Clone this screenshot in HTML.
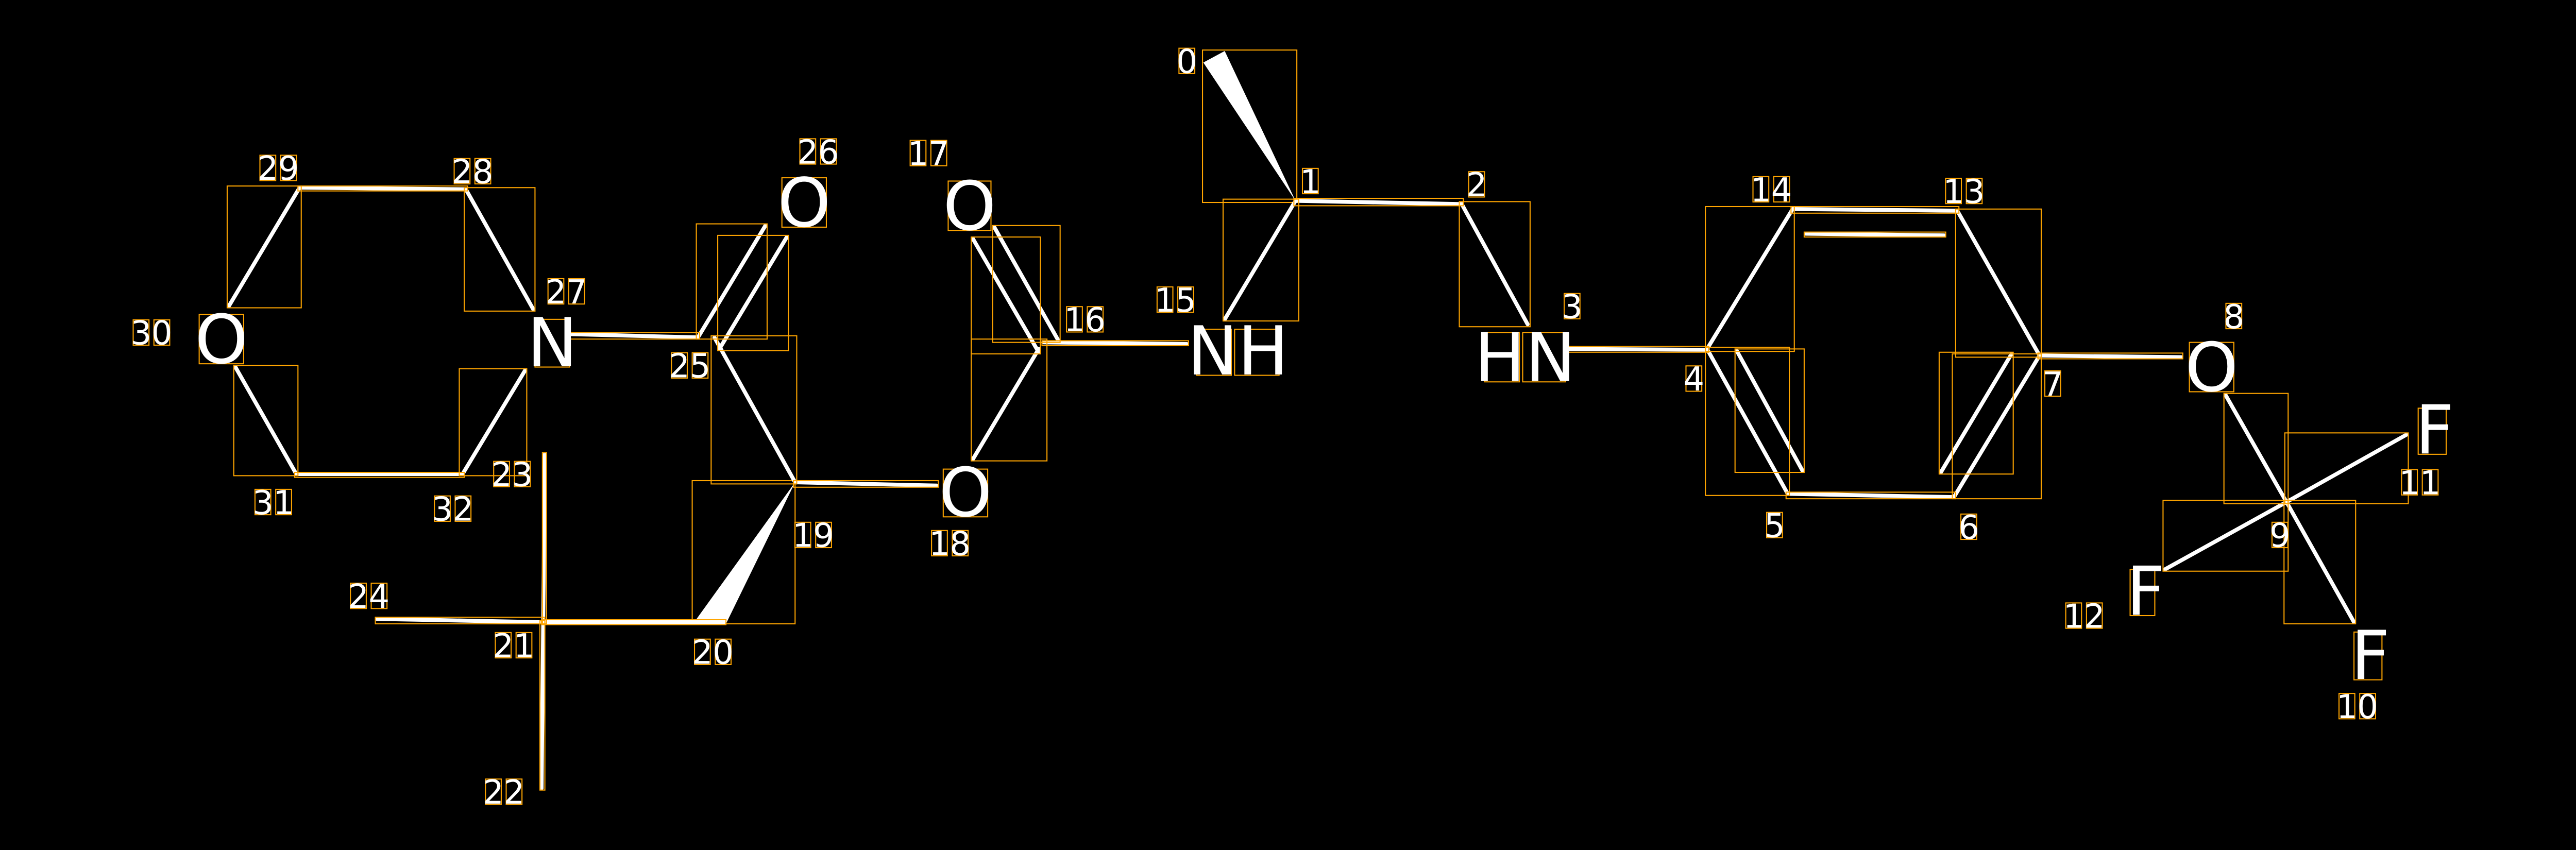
<!DOCTYPE html>
<html><head><meta charset="utf-8"><style>
html,body{margin:0;padding:0;background:#000;width:5010px;height:1650px;overflow:hidden}
svg{display:block}
.b{stroke:#fff;stroke-width:2.4;stroke-linecap:round;fill:none}
.x{stroke:#FFA500;stroke-width:0.65;fill:none}
.d{font-family:"DejaVu Sans","Liberation Sans",sans-serif;font-size:20px;fill:#fff;text-anchor:middle}
.a{font-family:"DejaVu Sans","Liberation Sans",sans-serif;font-size:41px;fill:#fff;text-anchor:middle}
</style></head><body>
<svg width="5010" height="1650" viewBox="0 0 1568 516.4" xmlns="http://www.w3.org/2000/svg">
<rect width="1568" height="516.4" fill="#000"/>
<polygon points="787,122 731,38 744,31" fill="#fff"/>
<rect class="x" x="730.5" y="30.4" width="57.3" height="92.6"/>
<polygon points="483,293 421,379 441,379" fill="#fff"/>
<rect class="x" x="420.5" y="292" width="62.5" height="87"/>
<g class="b">
<line x1="787" y1="122" x2="888" y2="124"/>
<line x1="888" y1="124" x2="928" y2="197"/>
<line x1="951" y1="212" x2="1037" y2="212.5"/>
<line x1="1037" y1="212" x2="1089" y2="127"/>
<line x1="1089" y1="127" x2="1189" y2="128"/>
<line x1="1097" y1="142" x2="1181" y2="143"/>
<line x1="1189" y1="128" x2="1239" y2="216"/>
<line x1="1239" y1="216" x2="1187" y2="302"/>
<line x1="1222" y1="215" x2="1179" y2="287"/>
<line x1="1187" y1="302" x2="1086" y2="300"/>
<line x1="1086" y1="300" x2="1037" y2="212"/>
<line x1="1055" y1="213" x2="1095" y2="286"/>
<line x1="1239" y1="216" x2="1325" y2="217"/>
<line x1="1352" y1="240" x2="1389" y2="305"/>
<line x1="1389" y1="305" x2="1430" y2="378"/>
<line x1="1389" y1="305" x2="1462" y2="264"/>
<line x1="1389" y1="305" x2="1315" y2="346"/>
<line x1="787" y1="122" x2="744" y2="194"/>
<line x1="721" y1="209" x2="634" y2="208"/>
<line x1="631" y1="214" x2="591" y2="145"/>
<line x1="643" y1="207" x2="604" y2="138"/>
<line x1="631" y1="212" x2="591" y2="279"/>
<line x1="569" y1="295" x2="483" y2="293"/>
<line x1="483" y1="293" x2="434" y2="205"/>
<line x1="424" y1="205" x2="465" y2="137"/>
<line x1="437" y1="212" x2="478" y2="144"/>
<line x1="424" y1="205" x2="347" y2="203"/>
<line x1="324" y1="188" x2="283" y2="115"/>
<line x1="283" y1="115" x2="182" y2="114"/>
<line x1="182" y1="114" x2="139" y2="186"/>
<line x1="143" y1="223" x2="180" y2="288"/>
<line x1="180" y1="288" x2="281" y2="288"/>
<line x1="281" y1="288" x2="319" y2="225"/>
<line x1="440" y1="378" x2="330" y2="378"/>
<line x1="330" y1="378" x2="229" y2="376"/>
<line x1="330" y1="378" x2="329" y2="479"/>
<line x1="330" y1="378" x2="331" y2="276"/>
</g>
<g class="x">
<rect x="786" y="120.5" width="103" height="4.5"/>
<rect x="886.5" y="122.5" width="43" height="76"/>
<rect x="950" y="210.5" width="88" height="3.5"/>
<rect x="1036" y="125.5" width="54" height="88"/>
<rect x="1088" y="125.5" width="102" height="4"/>
<rect x="1096" y="141" width="86" height="3"/>
<rect x="1188" y="127" width="52" height="90"/>
<rect x="1186" y="215" width="54" height="88"/>
<rect x="1178" y="214" width="45" height="74"/>
<rect x="1085" y="299" width="103" height="4"/>
<rect x="1036" y="211" width="51" height="90"/>
<rect x="1054" y="212" width="42" height="75"/>
<rect x="1238" y="214.5" width="88" height="3.5"/>
<rect x="1351" y="239" width="39" height="67"/>
<rect x="1387.5" y="304" width="43.5" height="75"/>
<rect x="1388" y="263" width="75" height="43"/>
<rect x="1314" y="304" width="76" height="43"/>
<rect x="743" y="121" width="46" height="74"/>
<rect x="633" y="207" width="89" height="3"/>
<rect x="590" y="144" width="42" height="71"/>
<rect x="603" y="137" width="41" height="71"/>
<rect x="590" y="206" width="46" height="74"/>
<rect x="482" y="292" width="88" height="4"/>
<rect x="432" y="204" width="52" height="90"/>
<rect x="423" y="136" width="43" height="70"/>
<rect x="436" y="143" width="43" height="70"/>
<rect x="346" y="202" width="79" height="4"/>
<rect x="282" y="114" width="43" height="75"/>
<rect x="181" y="113" width="103" height="3"/>
<rect x="138" y="113" width="45" height="74"/>
<rect x="142" y="222" width="39" height="67"/>
<rect x="179" y="287" width="103" height="3"/>
<rect x="279" y="224" width="41" height="65"/>
<rect x="329" y="376.5" width="112" height="3"/>
<rect x="228" y="375" width="103" height="4"/>
<rect x="328" y="377" width="3" height="103"/>
<rect x="329.5" y="275" width="2.5" height="104"/>
</g>
<g class="x">
<rect x="325" y="194" width="21" height="29"/>
<rect x="121" y="191" width="27" height="30"/>
<rect x="475" y="108" width="27" height="30"/>
<rect x="576" y="110" width="26" height="30"/>
<rect x="573" y="285" width="27" height="29"/>
<rect x="727" y="200" width="21" height="28"/><rect x="750" y="200" width="27" height="28"/>
<rect x="902" y="202" width="21" height="30"/><rect x="925" y="202" width="26" height="30"/>
<rect x="1330" y="208" width="27" height="30"/>
<rect x="1469" y="248" width="17" height="28"/>
<rect x="1294" y="346" width="15" height="28"/>
<rect x="1430" y="384" width="17" height="29"/>
</g>
<g class="a">
<text x="335.5" y="222.5">N</text>
<text x="134.5" y="220.5">O</text>
<text x="488.5" y="137.5">O</text>
<text x="589" y="139.5">O</text>
<text x="586.5" y="313.5">O</text>
<text x="752" y="227.5">NH</text>
<text x="926.5" y="231.5">HN</text>
<text x="1343.5" y="237.5">O</text>
<text x="1479" y="275.5">F</text>
<text x="1303.5" y="373.5">F</text>
<text x="1440" y="412.5">F</text>
</g>
<g class="x">
<rect x="716.2" y="29.3" width="9.6" height="15.4"/>
<rect x="791.2" y="102.3" width="9.6" height="15.4"/>
<rect x="892.2" y="104.3" width="9.6" height="15.4"/>
<rect x="950.2" y="178.3" width="9.6" height="15.4"/>
<rect x="1024.2" y="222.3" width="9.6" height="15.4"/>
<rect x="1073.2" y="311.3" width="9.6" height="15.4"/>
<rect x="1191.2" y="312.3" width="9.6" height="15.4"/>
<rect x="1242.2" y="225.3" width="9.6" height="15.4"/>
<rect x="1352.2" y="184.3" width="9.6" height="15.4"/>
<rect x="1380.2" y="317.3" width="9.6" height="15.4"/>
</g>
<g class="d">
<text x="721" y="44.3">0</text>
<text x="796" y="117.3">1</text>
<text x="897" y="119.3">2</text>
<text x="955" y="193.3">3</text>
<text x="1029" y="237.3">4</text>
<text x="1078" y="326.3">5</text>
<text x="1196" y="327.3">6</text>
<text x="1247" y="240.3">7</text>
<text x="1357" y="199.3">8</text>
<text x="1385" y="332.3">9</text>
</g>
<g class="x">
<rect x="1420.9" y="421.3" width="9.6" height="15.4"/><rect x="1433.5" y="421.3" width="9.6" height="15.4"/>
<rect x="1458.9" y="285.3" width="9.6" height="15.4"/><rect x="1471.5" y="285.3" width="9.6" height="15.4"/>
<rect x="1254.9" y="366.3" width="9.6" height="15.4"/><rect x="1267.5" y="366.3" width="9.6" height="15.4"/>
<rect x="1181.9" y="108.3" width="9.6" height="15.4"/><rect x="1194.5" y="108.3" width="9.6" height="15.4"/>
<rect x="1064.9" y="107.3" width="9.6" height="15.4"/><rect x="1077.5" y="107.3" width="9.6" height="15.4"/>
<rect x="702.9" y="174.3" width="9.6" height="15.4"/><rect x="715.5" y="174.3" width="9.6" height="15.4"/>
<rect x="647.9" y="186.3" width="9.6" height="15.4"/><rect x="660.5" y="186.3" width="9.6" height="15.4"/>
<rect x="552.9" y="85.3" width="9.6" height="15.4"/><rect x="565.5" y="85.3" width="9.6" height="15.4"/>
<rect x="565.9" y="322.3" width="9.6" height="15.4"/><rect x="578.5" y="322.3" width="9.6" height="15.4"/>
<rect x="482.9" y="317.3" width="9.6" height="15.4"/><rect x="495.5" y="317.3" width="9.6" height="15.4"/>
<rect x="421.9" y="388.3" width="9.6" height="15.4"/><rect x="434.5" y="388.3" width="9.6" height="15.4"/>
<rect x="300.9" y="384.3" width="9.6" height="15.4"/><rect x="313.5" y="384.3" width="9.6" height="15.4"/>
<rect x="294.9" y="473.3" width="9.6" height="15.4"/><rect x="307.5" y="473.3" width="9.6" height="15.4"/>
<rect x="299.9" y="280.3" width="9.6" height="15.4"/><rect x="312.5" y="280.3" width="9.6" height="15.4"/>
<rect x="212.9" y="354.3" width="9.6" height="15.4"/><rect x="225.5" y="354.3" width="9.6" height="15.4"/>
<rect x="407.9" y="214.3" width="9.6" height="15.4"/><rect x="420.5" y="214.3" width="9.6" height="15.4"/>
<rect x="485.9" y="84.3" width="9.6" height="15.4"/><rect x="498.5" y="84.3" width="9.6" height="15.4"/>
<rect x="332.9" y="169.3" width="9.6" height="15.4"/><rect x="345.5" y="169.3" width="9.6" height="15.4"/>
<rect x="275.9" y="96.3" width="9.6" height="15.4"/><rect x="288.5" y="96.3" width="9.6" height="15.4"/>
<rect x="157.9" y="94.3" width="9.6" height="15.4"/><rect x="170.5" y="94.3" width="9.6" height="15.4"/>
<rect x="80.9" y="194.3" width="9.6" height="15.4"/><rect x="93.5" y="194.3" width="9.6" height="15.4"/>
<rect x="154.9" y="297.3" width="9.6" height="15.4"/><rect x="167.5" y="297.3" width="9.6" height="15.4"/>
<rect x="263.9" y="301.3" width="9.6" height="15.4"/><rect x="276.5" y="301.3" width="9.6" height="15.4"/>
</g>
<g class="d">
<text x="1425.7" y="436.3">1</text><text x="1438.3" y="436.3">0</text>
<text x="1463.7" y="300.3">1</text><text x="1476.3" y="300.3">1</text>
<text x="1259.7" y="381.3">1</text><text x="1272.3" y="381.3">2</text>
<text x="1186.7" y="123.3">1</text><text x="1199.3" y="123.3">3</text>
<text x="1069.7" y="122.3">1</text><text x="1082.3" y="122.3">4</text>
<text x="707.7" y="189.3">1</text><text x="720.3" y="189.3">5</text>
<text x="652.7" y="201.3">1</text><text x="665.3" y="201.3">6</text>
<text x="557.7" y="100.3">1</text><text x="570.3" y="100.3">7</text>
<text x="570.7" y="337.3">1</text><text x="583.3" y="337.3">8</text>
<text x="487.7" y="332.3">1</text><text x="500.3" y="332.3">9</text>
<text x="426.7" y="403.3">2</text><text x="439.3" y="403.3">0</text>
<text x="305.7" y="399.3">2</text><text x="318.3" y="399.3">1</text>
<text x="299.7" y="488.3">2</text><text x="312.3" y="488.3">2</text>
<text x="304.7" y="295.3">2</text><text x="317.3" y="295.3">3</text>
<text x="217.7" y="369.3">2</text><text x="230.3" y="369.3">4</text>
<text x="412.7" y="229.3">2</text><text x="425.3" y="229.3">5</text>
<text x="490.7" y="99.3">2</text><text x="503.3" y="99.3">6</text>
<text x="337.7" y="184.3">2</text><text x="350.3" y="184.3">7</text>
<text x="280.7" y="111.3">2</text><text x="293.3" y="111.3">8</text>
<text x="162.7" y="109.3">2</text><text x="175.3" y="109.3">9</text>
<text x="85.7" y="209.3">3</text><text x="98.3" y="209.3">0</text>
<text x="159.7" y="312.3">3</text><text x="172.3" y="312.3">1</text>
<text x="268.7" y="316.3">3</text><text x="281.3" y="316.3">2</text>
</g>
</svg>
</body></html>
